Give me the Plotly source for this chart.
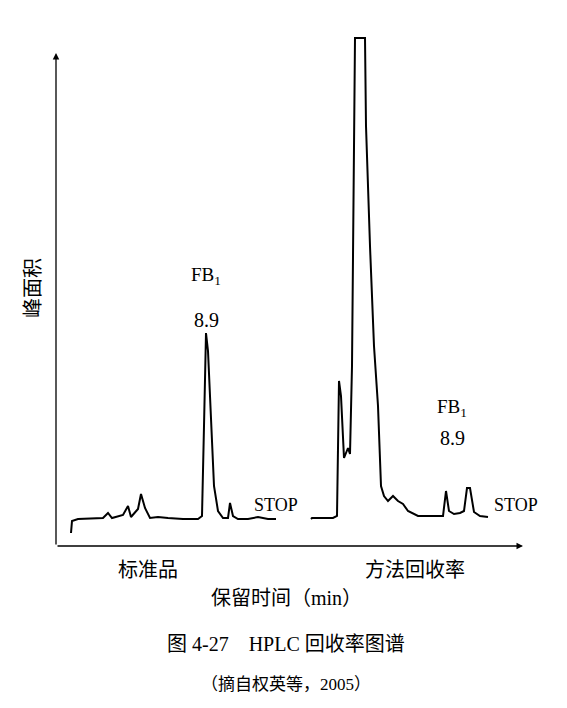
import plotly.graph_objects as go

# Standard sample trace (time units = pixel-like x, response = height)
std_t = [63,64,70,95,100,104,115,120,123,130,133,137,142,150,160,175,190,194,196,198,200,203,206,210,215,220,222,225,230,240,250,260,268]
std_r = [13,25,27,28,33,28,31,40,29,37,52,38,28,29,28,27,27,30,120,213,195,120,60,35,28,28,43,30,27,27,29,27,27]
# Recovery sample trace
rec_t = [303,304,310,325,329,331,333,336,340,342,344,346,347,357,358,362,366,370,373,376,380,385,390,395,400,410,420,432,435,438,441,446,452,456,459,462,466,472,480]
rec_r = [27,28,28,28,30,165,150,88,98,92,180,400,508,508,420,300,200,140,60,50,45,50,45,42,35,30,30,30,30,55,35,32,33,35,58,58,34,30,29]

fig = go.Figure()
for t, r in [(std_t, std_r), (rec_t, rec_r)]:
    fig.add_trace(go.Scatter(x=t, y=r, mode="lines", line=dict(color="black", width=2),
                             showlegend=False, cliponaxis=False))

F = "Liberation Serif, Noto Sans CJK SC"
fig.update_layout(
    width=567, height=708, margin=dict(l=0, r=0, t=0, b=0, autoexpand=False),
    plot_bgcolor="white", paper_bgcolor="white",
    xaxis=dict(range=[0, 567], visible=False, fixedrange=True),
    yaxis=dict(range=[-170, 538], visible=False, fixedrange=True),
    font=dict(family=F, color="black"),
)
# axes with arrows
fig.add_annotation(x=515, y=0, ax=48, ay=0, xref="x", yref="y", axref="x", ayref="y",
                   showarrow=True, arrowhead=2, arrowwidth=1.3, arrowcolor="black", text="")
fig.add_annotation(x=48, y=493, ax=48, ay=0, xref="x", yref="y", axref="x", ayref="y",
                   showarrow=True, arrowhead=2, arrowwidth=1.3, arrowcolor="black", text="")

def pa(xp, yp, s, size=19, **kw):
    fig.add_annotation(x=xp, y=538-yp, xref="x", yref="y",
                       text=s, showarrow=False, font=dict(size=size, family=F), **kw)

pa(25, 280, "峰面积", 20, textangle=-90)
pa(198, 268, "FB<sub>1</sub>")
pa(198, 312, "8.9", 20)
pa(268, 497, "STOP", 18)
pa(444, 400, "FB<sub>1</sub>")
pa(444, 430, "8.9", 20)
pa(508, 497, "STOP", 18)
pa(140, 562, "标准品", 20)
pa(407, 562, "方法回收率", 20)
pa(278, 590, "保留时间（min）", 20)
pa(278, 636, "图 4-27　HPLC 回收率图谱", 20)
pa(278, 676, "（摘自权英等，2005）", 17)

fig.write_html("out.html")
